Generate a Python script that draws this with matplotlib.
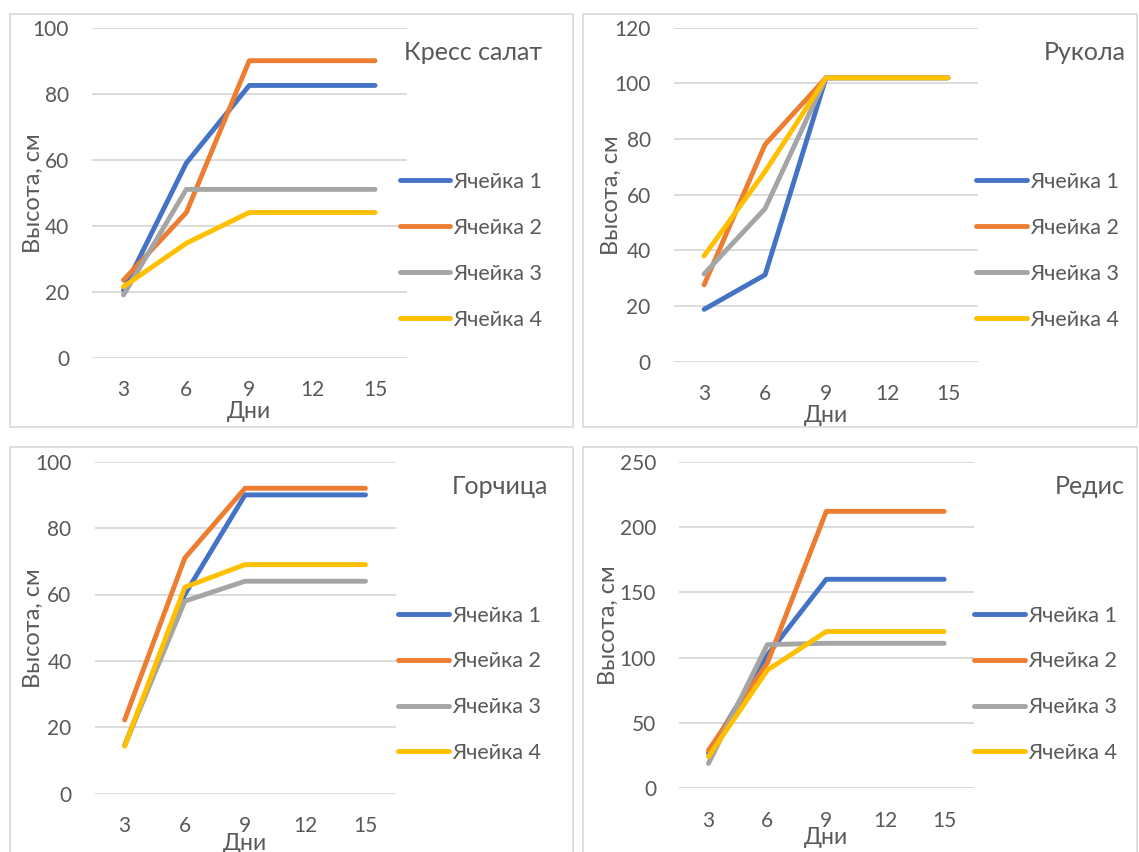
import matplotlib
matplotlib.use("Agg")
from matplotlib import pyplot as plt
from matplotlib.patches import Rectangle

plt.rcParams['font.family'] = ['Lato', 'DejaVu Sans']

days = [3, 6, 9, 12, 15]
series_names = ['Ячейка 1', 'Ячейка 2', 'Ячейка 3', 'Ячейка 4']
colors = ['#4472C4', '#ED7D31', '#A5A5A5', '#FFC000']

# heights per cell, one list per plant
kress = [
    [20.5, 59, 82.5, 82.5, 82.5],
    [23.5, 44, 90, 90, 90],
    [19, 51, 51, 51, 51],
    [21.5, 34.7, 44, 44, 44],
]
rukola = [
    [18.8, 31.2, 102, 102, 102],
    [27.6, 78, 102, 102, 102],
    [31.5, 55, 102, 102, 102],
    [38, 68.3, 102, 102, 102],
]
gorchica = [
    [14.5, 60, 90, 90, 90],
    [22.2, 71, 92, 92, 92],
    [14.5, 58, 64, 64, 64],
    [14.3, 62.2, 69, 69, 69],
]
redis = [
    [26.8, 102, 160, 160, 160],
    [29, 96, 212, 212, 212],
    [19, 110, 111, 111, 111],
    [24.2, 90.5, 120, 120, 120],
]

W, H = 1139, 852
TXT = '#595959'
fig = plt.figure(figsize=(W / 100, H / 100), dpi=100)


def px_axes(x0, y0, x1, y1):
    return fig.add_axes([x0 / W, 1 - y1 / H, (x1 - x0) / W, (y1 - y0) / H])


def panel_border(x0, y0, x1, y1):
    fig.patches.append(Rectangle((x0 / W, 1 - y1 / H), (x1 - x0) / W, (y1 - y0) / H,
                                 transform=fig.transFigure, fill=False,
                                 edgecolor='#d9d9d9', linewidth=1.2))


def draw_chart(box, data, ymax, ystep, title, title_xy, legend_xy, ylabel_x, xlabel_y):
    x0, y0, x1, y1 = box
    ax = px_axes(*box)
    pos = list(range(len(days)))
    for vals, name, c in zip(data, series_names, colors):
        ax.plot(pos, vals, color=c, linewidth=3.5, label=name,
                solid_capstyle='round', solid_joinstyle='round')
    ax.set_xlim(-0.5, len(days) - 0.5)
    ax.set_ylim(0, ymax)
    ax.set_xticks(pos)
    ax.set_xticklabels([str(d) for d in days])
    ax.set_yticks(list(range(0, ymax + 1, ystep)))
    ax.grid(axis='y', color='#d9d9d9', linewidth=1.3)
    ax.set_axisbelow(True)
    for s in ax.spines.values():
        s.set_visible(False)
    ax.tick_params(axis='both', length=0, labelsize=15, colors=TXT)
    ax.tick_params(axis='x', pad=16)
    ax.tick_params(axis='y', pad=16.5)

    # axis titles placed in pixel terms, like the Excel layout
    ax.set_xlabel('Дни', fontsize=16.5, color=TXT)
    ax.xaxis.label.set_verticalalignment('center')
    ax.xaxis.set_label_coords(0.5, -(xlabel_y - y1) / (y1 - y0))
    ax.set_ylabel('Высота, см', fontsize=17, color=TXT)
    ax.yaxis.label.set_verticalalignment('center')
    ax.yaxis.set_label_coords((ylabel_x - x0) / (x1 - x0), 0.5)

    fig.text(title_xy[0] / W, 1 - title_xy[1] / H, title, fontsize=18, color=TXT,
             ha='right', va='center')
    leg = ax.legend(loc='upper left', bbox_to_anchor=(legend_xy[0] / W, 1 - legend_xy[1] / H),
                    bbox_transform=fig.transFigure, frameon=False, fontsize=15.5,
                    handlelength=2.35, handletextpad=0.15, labelspacing=1.2,
                    borderpad=0, borderaxespad=0)
    for t in leg.get_texts():
        t.set_color(TXT)
    return ax


panel_border(9.5, 13.5, 572.5, 427)
panel_border(583, 13.5, 1137, 427)
panel_border(9.5, 447, 572.5, 862)
panel_border(583, 447, 1137, 862)

draw_chart((92, 27.7, 406.5, 357.7), kress, 100, 20, 'Кресс салат', (542, 53), (399.5, 172), 33, 411)
draw_chart((673.6, 27.7, 978.4, 361.7), rukola, 120, 20, 'Рукола', (1126, 53), (976, 172), 611, 415)
draw_chart((94.5, 461.7, 395.6, 793.7), gorchica, 100, 20, 'Горчица', (548, 487), (398, 605.5), 33, 843)
draw_chart((679, 461.7, 973.6, 788.3), redis, 250, 50, 'Редис', (1124.5, 487), (974, 605.5), 608, 838)

fig.savefig('out.png', dpi=100)
